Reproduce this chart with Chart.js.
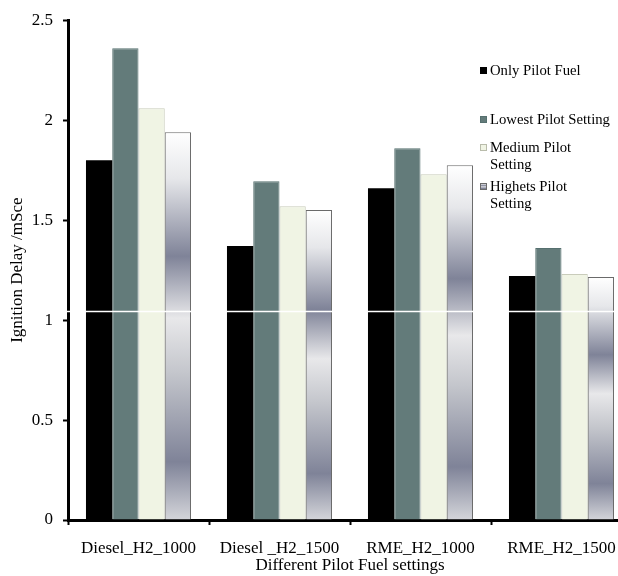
<!DOCTYPE html>
<html>
<head>
<meta charset="utf-8">
<script src="https://cdn.jsdelivr.net/npm/chart.js@4"></script>
<style>
  html, body { margin: 0; padding: 0; background: #fff; overflow: hidden; width: 618px; height: 576px; }
  #wrap { position: relative; width: 632px; height: 576px; }
  #legend { position: absolute; left: 480px; top: 0; font-family: 'Liberation Serif', 'Times New Roman', serif; font-size: 14.7px; line-height: 17px; color: #000; }
  .item { position: absolute; left: 0; white-space: nowrap; }
  .mk { position: absolute; left: 0; width: 7px; height: 7px; box-sizing: border-box; }
  .txt { position: absolute; left: 10px; top: 0; }
</style>
</head>
<body>
<div id="wrap">
  <canvas id="c"></canvas>
  <div id="legend"></div>
</div>
<script>
// ---- data ----
const categories = ["Diesel_H2_1000", "Diesel _H2_1500", "RME_H2_1000", "RME_H2_1500"];
const seriesNames = ["Only Pilot Fuel", "Lowest Pilot Setting", "Medium Pilot Setting", "Highets Pilot Setting"];
const onlyPilotFuel = [1.80, 1.37, 1.66, 1.22];
const lowestPilot   = [2.36, 1.695, 1.86, 1.36];
const mediumPilot   = [2.06, 1.57, 1.73, 1.23];
const highestPilot  = [1.94, 1.55, 1.775, 1.215];
const yTicks = [0, 0.5, 1, 1.5, 2, 2.5];
const yTickLabels = ["0", "0.5", "1", "1.5", "2", "2.5"];
const xTitle = "Different Pilot Fuel settings";
const yTitle = "Ignition Delay /mSce";

// ---- styles ----
const FONT = "'Liberation Serif', 'Times New Roman', serif";
const artifactValue = 1.045; // white scan line seen across the reference
const legendLines = [["Only Pilot Fuel"], ["Lowest Pilot Setting"], ["Medium Pilot", "Setting"], ["Highets Pilot", "Setting"]];
const legendTops = [62, 111, 139, 178];

function metalGradient(ctx, top, base) {
  const g = ctx.createLinearGradient(0, top, 0, base);
  g.addColorStop(0.00, '#ffffff');
  g.addColorStop(0.12, '#e6e7ea');
  g.addColorStop(0.32, '#7f8398');
  g.addColorStop(0.48, '#e8e8ea');
  g.addColorStop(0.62, '#c4c6cc');
  g.addColorStop(0.85, '#7f8398');
  g.addColorStop(1.00, '#d4d5da');
  return g;
}

const data = {
  labels: categories,
  datasets: [
    { label: seriesNames[0], data: onlyPilotFuel, backgroundColor: '#000000', borderWidth: 0 },
    { label: seriesNames[1], data: lowestPilot, backgroundColor: '#637b7a', borderColor: '#56706f', borderWidth: 1 },
    { label: seriesNames[2], data: mediumPilot, backgroundColor: '#f0f4e4', borderColor: '#c9ccbb', borderWidth: 1 },
    { label: seriesNames[3], data: highestPilot,
      backgroundColor: (c) => {
        const ch = c.chart, y = ch.scales && ch.scales.y;
        if (!y || c.type !== 'data' || c.raw == null) return '#b0b3bf';
        const t = y.getPixelForValue(c.raw), b = y.getPixelForValue(0);
        if (!isFinite(t) || !isFinite(b) || t === b) return '#b0b3bf';
        return metalGradient(ch.ctx, t, b);
      },
      borderColor: '#6a6a6a', borderWidth: 1 }
  ]
};

const scanLine = {
  id: 'scanLine',
  afterDraw(chart) {
    const { ctx, chartArea, scales } = chart;
    const yy = Math.round(scales.y.getPixelForValue(artifactValue)) + 0.5;
    ctx.save();
    ctx.strokeStyle = '#ffffff';
    ctx.lineWidth = 1.3;
    ctx.beginPath();
    ctx.moveTo(chartArea.left - 3, yy);
    ctx.lineTo(chartArea.right, yy);
    ctx.stroke();
    ctx.restore();
  }
};

const axisCommon = {
  z: 1,
  grid: { display: true, drawOnChartArea: false, tickLength: 5, tickColor: '#000', tickWidth: 2, color: '#000' },
  border: { display: true, color: '#000', width: 3 }
};

// HTML legend built from the series
const markerStyles = [
  'background:#000;',
  'background:#637b7a;border:1px solid #56706f;',
  'background:#f0f4e4;border:1px solid #b9bcab;',
  'background:linear-gradient(#e8e8ea,#7f8398 35%,#e0e0e4 55%,#7f8398 85%);border:1px solid #6a6a6a;'
];
const leg = document.getElementById('legend');
legendLines.forEach((lines, i) => {
  const it = document.createElement('div');
  it.className = 'item';
  it.style.top = legendTops[i] + 'px';
  const mk = document.createElement('div');
  mk.className = 'mk';
  mk.style.cssText += markerStyles[i] + 'top:5px;';
  const tx = document.createElement('div');
  tx.className = 'txt';
  tx.innerHTML = lines.join('<br>');
  it.appendChild(mk); it.appendChild(tx);
  leg.appendChild(it);
});

new Chart(document.getElementById('c'), {
  type: 'bar',
  data,
  options: {
    responsive: true,
    maintainAspectRatio: false,
    animation: false,
    layout: { padding: { top: 15, left: 0, right: 0, bottom: 0 } },
    datasets: { bar: { categoryPercentage: 0.745, barPercentage: 1.0 } },
    plugins: { legend: { display: false }, tooltip: { enabled: false } },
    scales: {
      x: Object.assign({}, axisCommon, {
        ticks: { color: '#000', font: { family: FONT, size: 17 }, padding: 13, maxRotation: 0, autoSkip: false },
        title: { display: true, text: xTitle, color: '#000', font: { family: FONT, size: 17 }, padding: { top: 0, bottom: 0 } },
        afterFit: (s) => { s.height = 56; }
      }),
      y: Object.assign({}, axisCommon, {
        min: yTicks[0], max: yTicks[yTicks.length - 1],
        afterBuildTicks: (s) => { s.ticks = yTicks.map(v => ({ value: v })); },
        ticks: { color: '#000', font: { family: FONT, size: 17 }, padding: 10,
                 callback: (v) => { const i = yTicks.indexOf(v); return i >= 0 ? yTickLabels[i] : String(v); } },
        title: { display: true, text: yTitle, color: '#000', font: { family: FONT, size: 17 }, padding: { top: 7, bottom: 0 } },
        afterFit: (s) => { s.width = 68; }
      })
    }
  },
  plugins: [scanLine]
});
</script>
</body>
</html>
